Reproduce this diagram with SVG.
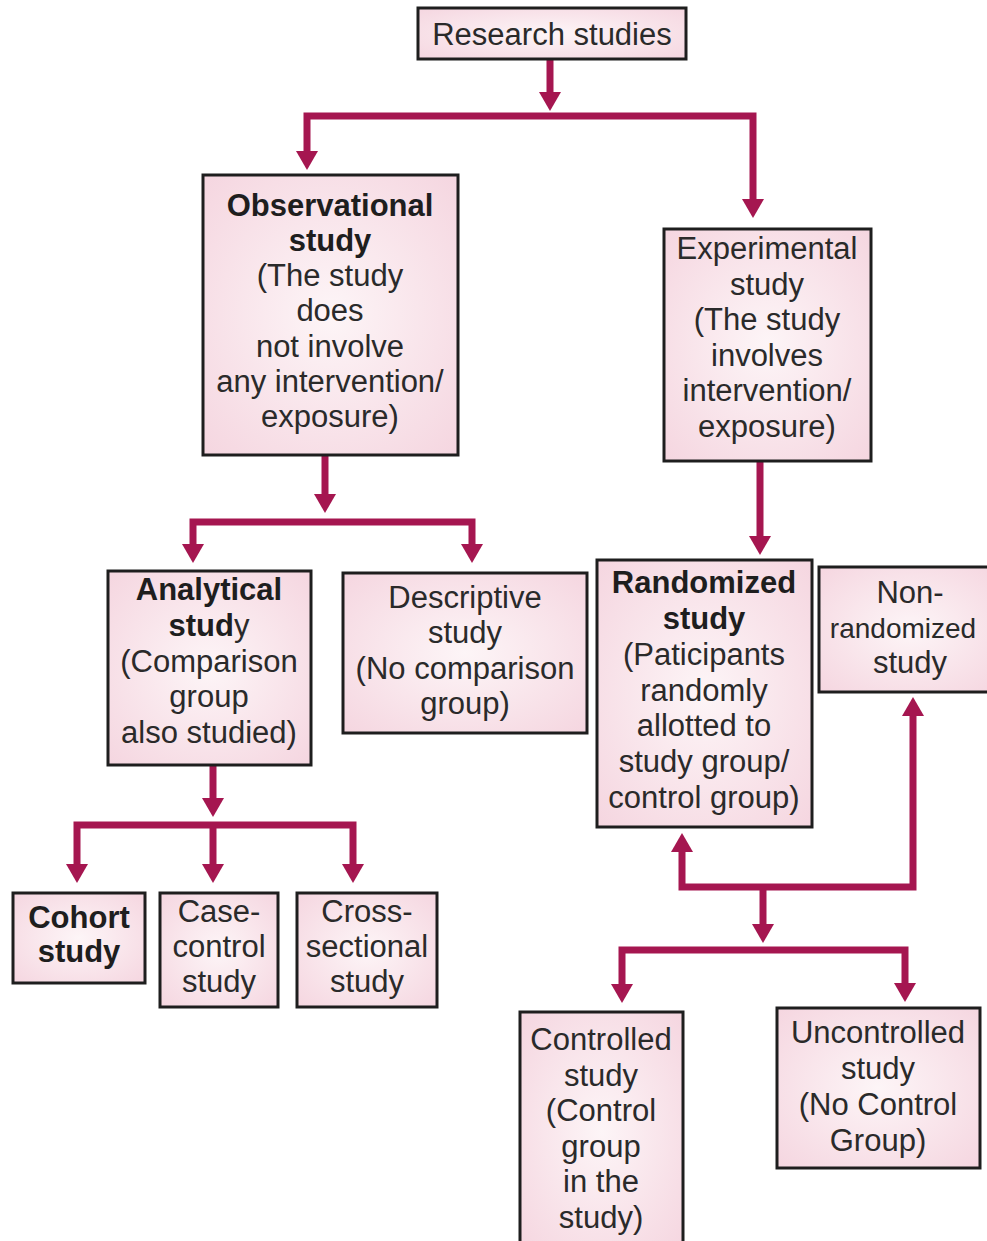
<svg xmlns="http://www.w3.org/2000/svg" width="987" height="1241" viewBox="0 0 987 1241">
<defs>
<radialGradient id="pink" cx="50%" cy="50%" r="70%">
<stop offset="0%" stop-color="#fdf5f7"/>
<stop offset="100%" stop-color="#f5d6e0"/>
</radialGradient>
<marker id="ah" markerUnits="userSpaceOnUse" markerWidth="24" markerHeight="24" viewBox="0 -12 19 24" refX="1" refY="0" orient="auto">
<path d="M0,-11 L19,0 L0,11 z" fill="#a51650"/>
</marker>
</defs>
<style>
.box{fill:url(#pink);stroke:#1e1e1e;stroke-width:3}
.t{font-family:"Liberation Sans",Arial,Helvetica,sans-serif;font-size:31px;fill:#2a2a2a;text-anchor:middle}
.b{font-weight:bold;fill:#1e1e1e}
.c{fill:none;stroke:#a51650;stroke-width:7;stroke-linejoin:miter;stroke-linecap:butt}
.a{marker-end:url(#ah)}
</style>
<rect width="987" height="1241" fill="#ffffff"/>

<g id="connectors">
<path class="c a" d="M550,59 V93"/>
<path class="c a" d="M550,116 H307 V152"/>
<path class="c a" d="M550,116 H753 V200"/>
<path class="c a" d="M325,455 V495"/>
<path class="c a" d="M325,522 H193 V545"/>
<path class="c a" d="M325,522 H472 V545"/>
<path class="c a" d="M760,461 V537"/>
<path class="c a" d="M213,765 V799"/>
<path class="c a" d="M213,825 H77 V865"/>
<path class="c a" d="M213,825 V865"/>
<path class="c a" d="M213,825 H353 V865"/>
<path class="c a" d="M763,887 H682 V851"/>
<path class="c a" d="M763,887 H913 V715"/>
<path class="c a" d="M763,887 V925"/>
<path class="c a" d="M763,950 H622 V985"/>
<path class="c a" d="M763,950 H905 V984"/>
</g>

<g id="research">
<rect class="box" x="418" y="8" width="268" height="51"/>
<text class="t" x="552" y="45">Research studies</text>
</g>

<g id="observational">
<rect class="box" x="203" y="175" width="255" height="280"/>
<text class="t b" x="330" y="216">Observational</text>
<text class="t b" x="330" y="251">study</text>
<text class="t" x="330" y="286">(The study</text>
<text class="t" x="330" y="321">does</text>
<text class="t" x="330" y="357">not involve</text>
<text class="t" x="330" y="392">any intervention/</text>
<text class="t" x="330" y="427">exposure)</text>
</g>

<g id="experimental">
<rect class="box" x="664" y="229" width="207" height="232"/>
<text class="t" x="767" y="259">Experimental</text>
<text class="t" x="767" y="295">study</text>
<text class="t" x="767" y="330">(The study</text>
<text class="t" x="767" y="366">involves</text>
<text class="t" x="767" y="401">intervention/</text>
<text class="t" x="767" y="437">exposure)</text>
</g>

<g id="analytical">
<rect class="box" x="108" y="571" width="203" height="194"/>
<text class="t b" x="209" y="600">Analytical</text>
<text class="t" x="209" y="636"><tspan class="b">stud</tspan>y</text>
<text class="t" x="209" y="672">(Comparison</text>
<text class="t" x="209" y="707">group</text>
<text class="t" x="209" y="743">also studied)</text>
</g>

<g id="descriptive">
<rect class="box" x="343" y="573" width="244" height="160"/>
<text class="t" x="465" y="608">Descriptive</text>
<text class="t" x="465" y="643">study</text>
<text class="t" x="465" y="679">(No comparison</text>
<text class="t" x="465" y="714">group)</text>
</g>

<g id="randomized">
<rect class="box" x="597" y="560" width="215" height="267"/>
<text class="t b" x="704" y="593">Randomized</text>
<text class="t b" x="704" y="629">study</text>
<text class="t" x="704" y="665">(Paticipants</text>
<text class="t" x="704" y="701">randomly</text>
<text class="t" x="704" y="736">allotted to</text>
<text class="t" x="704" y="772">study group/</text>
<text class="t" x="704" y="808">control group)</text>
</g>

<g id="nonrandomized">
<rect class="box" x="819" y="567" width="182" height="125"/>
<text class="t" x="910" y="603">Non-</text>
<text class="t" x="903" y="638" style="font-size:28px">randomized</text>
<text class="t" x="910" y="673">study</text>
</g>

<g id="cohort">
<rect class="box" x="13" y="893" width="132" height="90"/>
<text class="t b" x="79" y="928">Cohort</text>
<text class="t b" x="79" y="962">study</text>
</g>

<g id="casecontrol">
<rect class="box" x="160" y="893" width="118" height="114"/>
<text class="t" x="219" y="922">Case-</text>
<text class="t" x="219" y="957">control</text>
<text class="t" x="219" y="992">study</text>
</g>

<g id="crosssectional">
<rect class="box" x="297" y="893" width="140" height="114"/>
<text class="t" x="367" y="922">Cross-</text>
<text class="t" x="367" y="957">sectional</text>
<text class="t" x="367" y="992">study</text>
</g>

<g id="controlled">
<rect class="box" x="520" y="1012" width="163" height="240"/>
<text class="t" x="601" y="1050">Controlled</text>
<text class="t" x="601" y="1086">study</text>
<text class="t" x="601" y="1121">(Control</text>
<text class="t" x="601" y="1157">group</text>
<text class="t" x="601" y="1192">in the</text>
<text class="t" x="601" y="1228">study)</text>
</g>

<g id="uncontrolled">
<rect class="box" x="777" y="1008" width="203" height="160"/>
<text class="t" x="878" y="1043">Uncontrolled</text>
<text class="t" x="878" y="1079">study</text>
<text class="t" x="878" y="1115">(No Control</text>
<text class="t" x="878" y="1151">Group)</text>
</g>
</svg>
